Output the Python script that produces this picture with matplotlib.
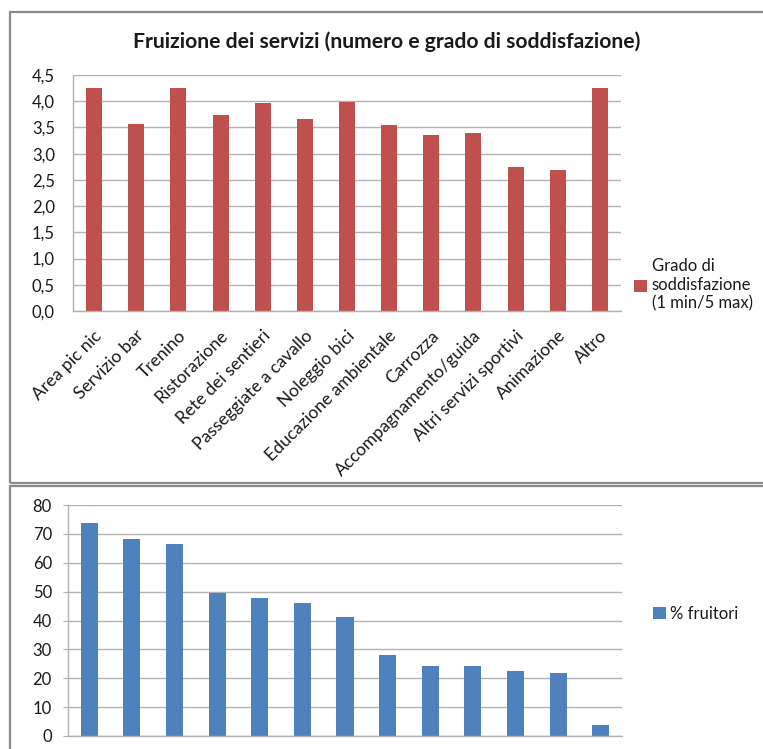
import matplotlib
matplotlib.use("Agg")
import matplotlib.pyplot as plt
from matplotlib.patches import Rectangle
from matplotlib.ticker import FuncFormatter
from matplotlib.transforms import ScaledTranslation

plt.rcParams['font.family'] = ['Lato', 'DejaVu Sans']

servizi = ["Area pic nic", "Servizio bar", "Trenino", "Ristorazione",
           "Rete dei sentieri", "Passeggiate a cavallo", "Noleggio bici",
           "Educazione ambientale", "Carrozza", "Accompagnamento/guida",
           "Altri servizi sportivi", "Animazione", "Altro"]
soddisfazione = [4.25, 3.57, 4.25, 3.74, 3.97, 3.67, 3.99,
                 3.54, 3.36, 3.39, 2.75, 2.69, 4.25]
fruitori = [73.8, 68.3, 66.5, 49.5, 47.9, 46.0, 41.2,
            27.9, 24.3, 24.3, 22.5, 21.7, 3.8]

label_sodd = "Grado di\nsoddisfazione\n(1 min/5 max)"
label_fruit = "% fruitori"
titolo = "Fruizione dei servizi (numero e grado di soddisfazione)"

RED = "#C0504D"
BLUE = "#4F81BD"
GRID = "#B3B3B3"
FRAME = "#8A8A8A"
TXT = "#1a1a1a"

W, H = 763, 749
fig = plt.figure(figsize=(W / 100, H / 100), dpi=100)


def fbox(x0, y0, x1, y1):
    """pixel box (top-left origin) -> figure fraction [l, b, w, h]"""
    return [x0 / W, 1 - y1 / H, (x1 - x0) / W, (y1 - y0) / H]


# panel frames
for (x0, y0, x1, y1) in [(10, 12, 790, 483), (10, 486, 790, 800)]:
    l, b, w, h = fbox(x0, y0, x1, y1)
    fig.patches.append(Rectangle((l, b), w, h, transform=fig.transFigure,
                                 fill=False, edgecolor=FRAME, linewidth=1.6))


def style_axes(ax):
    ax.set_facecolor("none")
    for s in ("top", "right"):
        ax.spines[s].set_visible(False)
    for s in ("left", "bottom"):
        ax.spines[s].set_color(GRID)
        ax.spines[s].set_linewidth(1.0)
    ax.yaxis.grid(True, color=GRID, linewidth=1.0)
    ax.set_axisbelow(True)
    ax.tick_params(axis="y", length=0, pad=13, labelsize=12, colors=TXT)
    ax.tick_params(axis="x", length=0)


x = range(len(servizi))

# --- satisfaction chart ---
ax1 = fig.add_axes(fbox(73, 75, 621, 311))
style_axes(ax1)
b1 = ax1.bar(x, soddisfazione, width=0.38, color=RED, label=label_sodd)
ax1.set_xlim(-0.5, len(servizi) - 0.5)
ax1.set_ylim(0, 4.5)
ax1.set_yticks([i * 0.5 for i in range(10)])
ax1.yaxis.set_major_formatter(FuncFormatter(lambda v, p: f"{v:.1f}".replace(".", ",")))
ax1.set_xticks(list(x))
ax1.set_xticklabels(servizi, rotation=45, ha="right", va="center",
                    rotation_mode="anchor", fontsize=12.6, color=TXT)
ax1.tick_params(axis="x", pad=16)
shift = ScaledTranslation(5 / 100, 0, fig.dpi_scale_trans)
for lab in ax1.get_xticklabels():
    lab.set_transform(lab.get_transform() + shift)
ax1.legend(handles=[b1], loc="center left", bbox_to_anchor=(619 / W, 1 - 285 / H),
           bbox_transform=fig.transFigure, frameon=False, fontsize=12,
           handlelength=0.75, handleheight=0.75, handletextpad=0.3,
           labelspacing=0.2, labelcolor=TXT)
fig.text(387 / W, 1 - 42 / H, titolo, ha="center", va="center",
         fontsize=15.2, fontweight="bold", color=TXT)

# --- users chart ---
ax2 = fig.add_axes(fbox(68, 505, 622, 736))
style_axes(ax2)
b2 = ax2.bar(x, fruitori, width=0.4, color=BLUE, label=label_fruit)
ax2.set_xlim(-0.5, len(servizi) - 0.5)
ax2.set_ylim(0, 80)
ax2.set_yticks(range(0, 81, 10))
ax2.set_xticks([])
ax2.tick_params(axis="y", length=3.6, color=GRID, pad=8)
ax2.legend(handles=[b2], loc="center left", bbox_to_anchor=(638 / W, 1 - 614 / H),
           bbox_transform=fig.transFigure, frameon=False, fontsize=12,
           handlelength=0.75, handleheight=0.75, handletextpad=0.3,
           labelcolor=TXT)

fig.savefig("out.png", dpi=100)
